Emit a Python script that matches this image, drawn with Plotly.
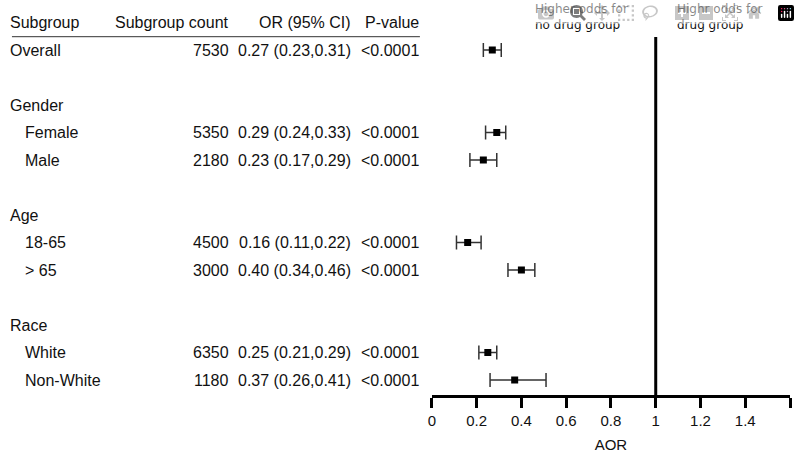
import plotly.graph_objects as go

# ---- data ----
labels = ["Overall", "Gender", "Female", "Male", "Age", "18-65", "> 65", "Race", "White", "Non-White"]
rows = [0, 2, 3, 4, 6, 7, 8, 10, 11, 12]
is_header = [False, True, False, False, True, False, False, True, False, False]
counts = ["7530", "", "5350", "2180", "", "4500", "3000", "", "6350", "1180"]
or_text = ["0.27 (0.23,0.31)", "", "0.29 (0.24,0.33)", "0.23 (0.17,0.29)", "",
           "0.16 (0.11,0.22)", "0.40 (0.34,0.46)", "", "0.25 (0.21,0.29)", "0.37 (0.26,0.41)"]
p_text = ["<0.0001", "", "<0.0001", "<0.0001", "", "<0.0001", "<0.0001", "", "<0.0001", "<0.0001"]

# plotted estimates (read from the drawn marks)
est_rows = [0, 3, 4, 7, 8, 11, 12]
est = [0.27, 0.29, 0.23, 0.16, 0.40, 0.25, 0.37]
ci_low = [0.23, 0.24, 0.17, 0.11, 0.34, 0.21, 0.26]
ci_high = [0.31, 0.33, 0.29, 0.22, 0.46, 0.29, 0.51]

col_headers = ["Subgroup", "Subgroup count", "OR (95% CI)", "P-value"]
header_row = -1
x_ticks = [0, 0.2, 0.4, 0.6, 0.8, 1, 1.2, 1.4, 1.6]
x_ticktext = ["0", "0.2", "0.4", "0.6", "0.8", "1", "1.2", "1.4", "1.6"]
ref_line_x = 1
note_left = "Higher odds for<br>no drug group"
note_right = "Highr odds for<br>drug group"

W, H = 800, 467
FONT = "Liberation Sans, Arial, sans-serif"
FS = 16
TXT = "#111111"

# y axis: row r sits at pixel 50 + 27.5 r; axis line at pixel 395
Y_TOP_ROW = -50 / 27.5
Y_BOT_ROW = (395 - 50) / 27.5
LINE_TOP_ROW = (37 - 50) / 27.5

fig = go.Figure()
fig.add_trace(go.Scatter(
    x=est, y=est_rows, mode="markers",
    marker=dict(symbol="square", size=7, color="black"),
    error_x=dict(type="data", symmetric=False,
                 array=[h - e for h, e in zip(ci_high, est)],
                 arrayminus=[e - l for e, l in zip(est, ci_low)],
                 color="#333333", thickness=1.5, width=7),
    showlegend=False, hoverinfo="skip", cliponaxis=False,
))

annotations = []
def txt(x_px, y, s, anchor):
    annotations.append(dict(x=x_px / W, xref="paper", y=y, yref="y", text=s,
                            showarrow=False, xanchor=anchor, yanchor="middle",
                            borderpad=0,
                            font=dict(family=FONT, size=FS, color=TXT)))

COL_L, COL_IND, COL_N, COL_OR, COL_P = 5, 20, 227, 350, 418

txt(COL_L, header_row, col_headers[0], "left")
txt(COL_N, header_row, col_headers[1], "right")
txt(COL_OR, header_row, col_headers[2], "right")
txt(COL_P, header_row, col_headers[3], "right")

for lab, r, hdr, c, o, p in zip(labels, rows, is_header, counts, or_text, p_text):
    indent = COL_L if (hdr or lab == "Overall") else COL_IND
    txt(indent, r, lab, "left")
    if c:
        txt(COL_N, r, c, "right")
    if o:
        txt(COL_OR, r, o, "right")
    if p:
        txt(COL_P, r, p, "right")

for s, xp in [(note_left, 533), (note_right, 675)]:
    annotations.append(dict(x=xp / W, xref="paper", y=1 - 1 / H, yref="paper", text=s,
                            showarrow=False, xanchor="left", yanchor="top", align="left",
                            borderpad=0,
                            font=dict(family="DejaVu Sans, Verdana, sans-serif", size=12, color=TXT)))

shapes = [
    dict(type="line", xref="x", yref="y", x0=ref_line_x, x1=ref_line_x, y0=LINE_TOP_ROW, y1=Y_BOT_ROW,
         line=dict(color="black", width=3)),
    dict(type="line", xref="paper", yref="paper", x0=8 / W, x1=418 / W,
         y0=1 - 36.7 / H, y1=1 - 36.7 / H, line=dict(color="#333333", width=1)),
]

fig.update_layout(
    width=W, height=H, margin=dict(l=0, r=0, t=0, b=0),
    plot_bgcolor="white", paper_bgcolor="white",
    annotations=annotations, shapes=shapes,
    xaxis=dict(domain=[430 / W, 790 / W], range=[0, 1.6], tickvals=x_ticks, ticktext=x_ticktext,
               showline=True, linecolor="black", linewidth=3, ticks="outside", ticklen=10,
               tickwidth=3, tickcolor="black", showgrid=False, zeroline=False,
               tickfont=dict(family=FONT, size=15, color=TXT),
               title=dict(text="AOR", font=dict(family=FONT, size=15, color=TXT), standoff=12)),
    yaxis=dict(domain=[(H - 395) / H, 1], range=[Y_BOT_ROW, Y_TOP_ROW],
               showline=False, showgrid=False, zeroline=False, showticklabels=False, ticks=""),
)

fig.write_html("out.html", post_script="document.body.style.margin='0';")
